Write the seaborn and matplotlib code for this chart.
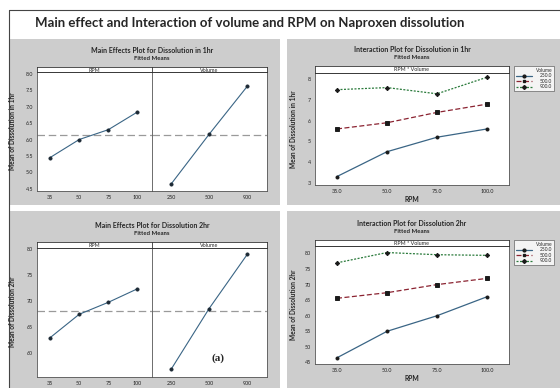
import numpy as np
import pandas as pd
import matplotlib
matplotlib.use("Agg")
import matplotlib.pyplot as plt
import seaborn as sns
from matplotlib.patches import Rectangle
from matplotlib.lines import Line2D

# ---------------- data ----------------
rpm_levels = ["35", "50", "75", "100"]
vol_levels = ["250", "500", "900"]
rpm_levels_int = ["35.0", "50.0", "75.0", "100.0"]
vol_levels_int = ["250.0", "500.0", "900.0"]

me1_rpm = [5.45, 6.00, 6.30, 6.84]
me1_vol = [4.64, 6.16, 7.62]
me2_rpm = [63.0, 67.5, 69.8, 72.4]
me2_vol = [56.9, 68.6, 79.0]

int1_250 = [3.3, 4.5, 5.2, 5.6]
int1_500 = [5.6, 5.9, 6.4, 6.8]
int1_900 = [7.5, 7.6, 7.3, 8.1]
int2_250 = [46.5, 55.0, 60.0, 66.1]
int2_500 = [65.6, 67.4, 70.0, 72.0]
int2_900 = [77.0, 80.3, 79.6, 79.4]

me1_yticks = [4.5, 5.0, 5.5, 6.0, 6.5, 7.0, 7.5, 8.0]
me2_yticks = [60, 65, 70, 75, 80]
int1_yticks = [3, 4, 5, 6, 7, 8]
int2_yticks = [45, 50, 55, 60, 65, 70, 75, 80]

# ---------------- style ----------------
sns.set_style("white")
plt.rcParams["font.family"] = ["Lato", "DejaVu Sans"]

W, H = 560, 388
fig = plt.figure(figsize=(W / 100, H / 100), dpi=100)
fig.patch.set_facecolor("white")

GRAY = "#cdcdcd"
LINE = "#3a6585"
SPINE = "#555555"
COLS = ["#3a6585", "#8b2331", "#2a7a3b"]
MARKS = ["o", "s", "D"]
STYLES = ["-", (0, (4, 2)), (0, (1.6, 1.2))]
FS_T = 5.0
FS_S = 3.9


def rect(l, t, r, b):
    return [l / W, 1 - b / H, (r - l) / W, (b - t) / H]


def fx(x):
    return x / W


def fy(y):
    return 1 - y / H


# gray panels
for (l, t, r, b) in [(9, 39, 280, 205), (287, 39, 560, 205),
                     (9, 211, 280, 388), (287, 211, 560, 388)]:
    fig.patches.append(Rectangle((l / W, 1 - b / H), (r - l) / W, (b - t) / H,
                                 transform=fig.transFigure, facecolor=GRAY,
                                 edgecolor="none", zorder=-2))
# outer frame lines
fig.lines.append(Line2D([fx(9), fx(560)], [fy(10), fy(10)], transform=fig.transFigure,
                        color="#444444", lw=0.8))
fig.lines.append(Line2D([fx(9), fx(9)], [fy(10), fy(388)], transform=fig.transFigure,
                        color="#444444", lw=0.8))

fig.text(fx(35), fy(23), "Main effect and Interaction of volume and RPM on Naproxen dissolution",
         fontsize=9.5, fontweight="bold", ha="left", va="center")


def style_ax(ax):
    for s in ax.spines.values():
        s.set_color(SPINE)
        s.set_linewidth(0.6)
    ax.tick_params(axis="both", direction="out", length=1.6, width=0.5,
                   labelsize=FS_S, pad=1.2, colors="#222222")
    ax.set_facecolor("white")
    ax.set_xlabel("")
    ax.set_ylabel("")


def strip(l, t, r, b, text):
    s = fig.add_axes(rect(l, t, r, b))
    s.set_xticks([])
    s.set_yticks([])
    s.set_facecolor("white")
    for sp in s.spines.values():
        sp.set_color("#333333")
        sp.set_linewidth(0.6)
    s.text(0.5, 0.5, text, ha="center", va="center_baseline", fontsize=FS_S,
           transform=s.transAxes)


def main_effects(top, bottom, strip_top, rpm_vals, vol_vals, ylim, yticks, fmt,
                 title, ylabel):
    l, d, r = 37, 152, 267
    ax_r = fig.add_axes(rect(l, top, d, bottom))
    ax_v = fig.add_axes(rect(d, top, r, bottom), sharey=ax_r)
    df_r = pd.DataFrame({"RPM": rpm_levels, "Mean": rpm_vals})
    df_v = pd.DataFrame({"Volume": vol_levels, "Mean": vol_vals})
    sns.pointplot(data=df_r, x="RPM", y="Mean", order=rpm_levels, color=LINE,
                  markers="o", linestyles="-", errorbar=None, ax=ax_r,
                  markersize=2.3, linewidth=0.8)
    sns.pointplot(data=df_v, x="Volume", y="Mean", order=vol_levels, color=LINE,
                  markers="o", linestyles="-", errorbar=None, ax=ax_v,
                  markersize=2.3, linewidth=0.8)
    for ln in ax_r.lines + ax_v.lines:
        ln.set_markerfacecolor("#1d2a35")
        ln.set_markeredgecolor("#1d2a35")
    grand = np.mean(rpm_vals)
    for ax in (ax_r, ax_v):
        ax.axhline(grand, color="#9a9a9a", lw=0.9, ls=(0, (6, 3)), zorder=1)
        style_ax(ax)
    ax_r.set_xlim(-0.45, 3.5)
    ax_v.set_xlim(-0.5, 2.52)
    ax_r.set_ylim(*ylim)
    ax_r.set_yticks(yticks)
    ax_r.set_yticklabels([fmt.format(v) for v in yticks])
    ax_v.tick_params(axis="y", left=False, labelleft=False)
    strip(l, strip_top, d, top, "RPM")
    strip(d, strip_top, r, top, "Volume")
    cx = fx((l + r) / 2)
    fig.text(cx, fy(strip_top - 16), title[0], ha="center", va="center",
             fontsize=FS_T, fontweight="bold")
    fig.text(cx, fy(strip_top - 8.5), title[1], ha="center", va="center",
             fontsize=4.3, fontweight="bold")
    fig.text(fx(13), fy((top + bottom) / 2), ylabel, rotation=90, ha="center",
             va="center", fontsize=4.7, fontweight="bold")
    return ax_r, ax_v


def interaction(top, bottom, strip_top, series, ylim, yticks, title, ylabel,
                leg_top):
    l, r = 315, 509
    ax = fig.add_axes(rect(l, top, r, bottom))
    rows = []
    for vol, vals in zip(vol_levels_int, series):
        for rp, v in zip(rpm_levels_int, vals):
            rows.append({"RPM": rp, "Volume": vol, "Mean": v})
    df = pd.DataFrame(rows)
    sns.pointplot(data=df, x="RPM", y="Mean", hue="Volume", order=rpm_levels_int,
                  hue_order=vol_levels_int, palette=COLS, markers=MARKS,
                  linestyles=STYLES, errorbar=None, dodge=False, ax=ax,
                  markersize=2.2, linewidth=0.9, legend=False)
    for ln in ax.lines:
        ln.set_markerfacecolor("#1a1a1a")
        ln.set_markeredgecolor("#1a1a1a")
    style_ax(ax)
    ax.set_xlim(-0.44, 3.44)
    ax.set_ylim(*ylim)
    ax.set_yticks(yticks)
    ax.set_yticklabels([str(v) for v in yticks])
    ax.set_xlabel("RPM", fontsize=4.9, fontweight="bold", labelpad=1.5)
    strip(l, strip_top, r, top, "RPM * Volume")
    cx = fx((l + r) / 2)
    fig.text(cx, fy(strip_top - 16), title[0], ha="center", va="center",
             fontsize=FS_T, fontweight="bold")
    fig.text(cx, fy(strip_top - 8.5), title[1], ha="center", va="center",
             fontsize=4.3, fontweight="bold")
    fig.text(fx(294), fy((top + bottom) / 2), ylabel, rotation=90, ha="center",
             va="center", fontsize=4.7, fontweight="bold")
    handles = [Line2D([0], [0], color=c, ls=s, lw=0.9, marker=m, markersize=2.0,
                      markerfacecolor="#1a1a1a", markeredgecolor="#1a1a1a")
               for c, m, s in zip(COLS, MARKS, STYLES)]
    leg = ax.legend(handles, vol_levels_int, title="Volume", loc="upper left",
                    bbox_to_anchor=(fx(514), fy(leg_top)), bbox_transform=fig.transFigure,
                    fontsize=3.5, title_fontsize=3.5, frameon=True, fancybox=False,
                    edgecolor="#444444", facecolor="white", handlelength=3.4,
                    borderpad=0.35, labelspacing=0.12, handletextpad=1.6,
                    alignment="right", borderaxespad=0)
    leg.get_frame().set_linewidth(0.5)
    return ax


main_effects(72.3, 191, 66.7, me1_rpm, me1_vol, (4.43, 8.05), me1_yticks, "{:.1f}",
             ("Main Effects Plot for Dissolution in 1hr", "Fitted Means"),
             "Mean of Dissolution in 1hr")
main_effects(247.7, 376.7, 241.7, me2_rpm, me2_vol, (55.5, 80.3),
             me2_yticks, "{:.0f}",
             ("Main Effects Plot for Dissolution 2hr", "Fitted Means"),
             "Mean of Dissolution 2hr")
fig.text(fx(218), fy(358), "(a)", ha="center", va="center", fontsize=8,
         fontweight="bold", family=["Liberation Serif", "DejaVu Serif"])

interaction(72.7, 185, 66, [int1_250, int1_500, int1_900], (2.89, 8.32), int1_yticks,
            ("Interaction Plot for Dissolution in 1hr", "Fitted Means"),
            "Mean of Dissolution in 1hr", 66)
interaction(246, 364, 240, [int2_250, int2_500, int2_900], (44.5, 82.4), int2_yticks,
            ("Interaction Plot for Dissolution 2hr", "Fitted Means"),
            "Mean of Dissolution 2hr", 240)

fig.savefig("out.png", dpi=100, facecolor="white")
